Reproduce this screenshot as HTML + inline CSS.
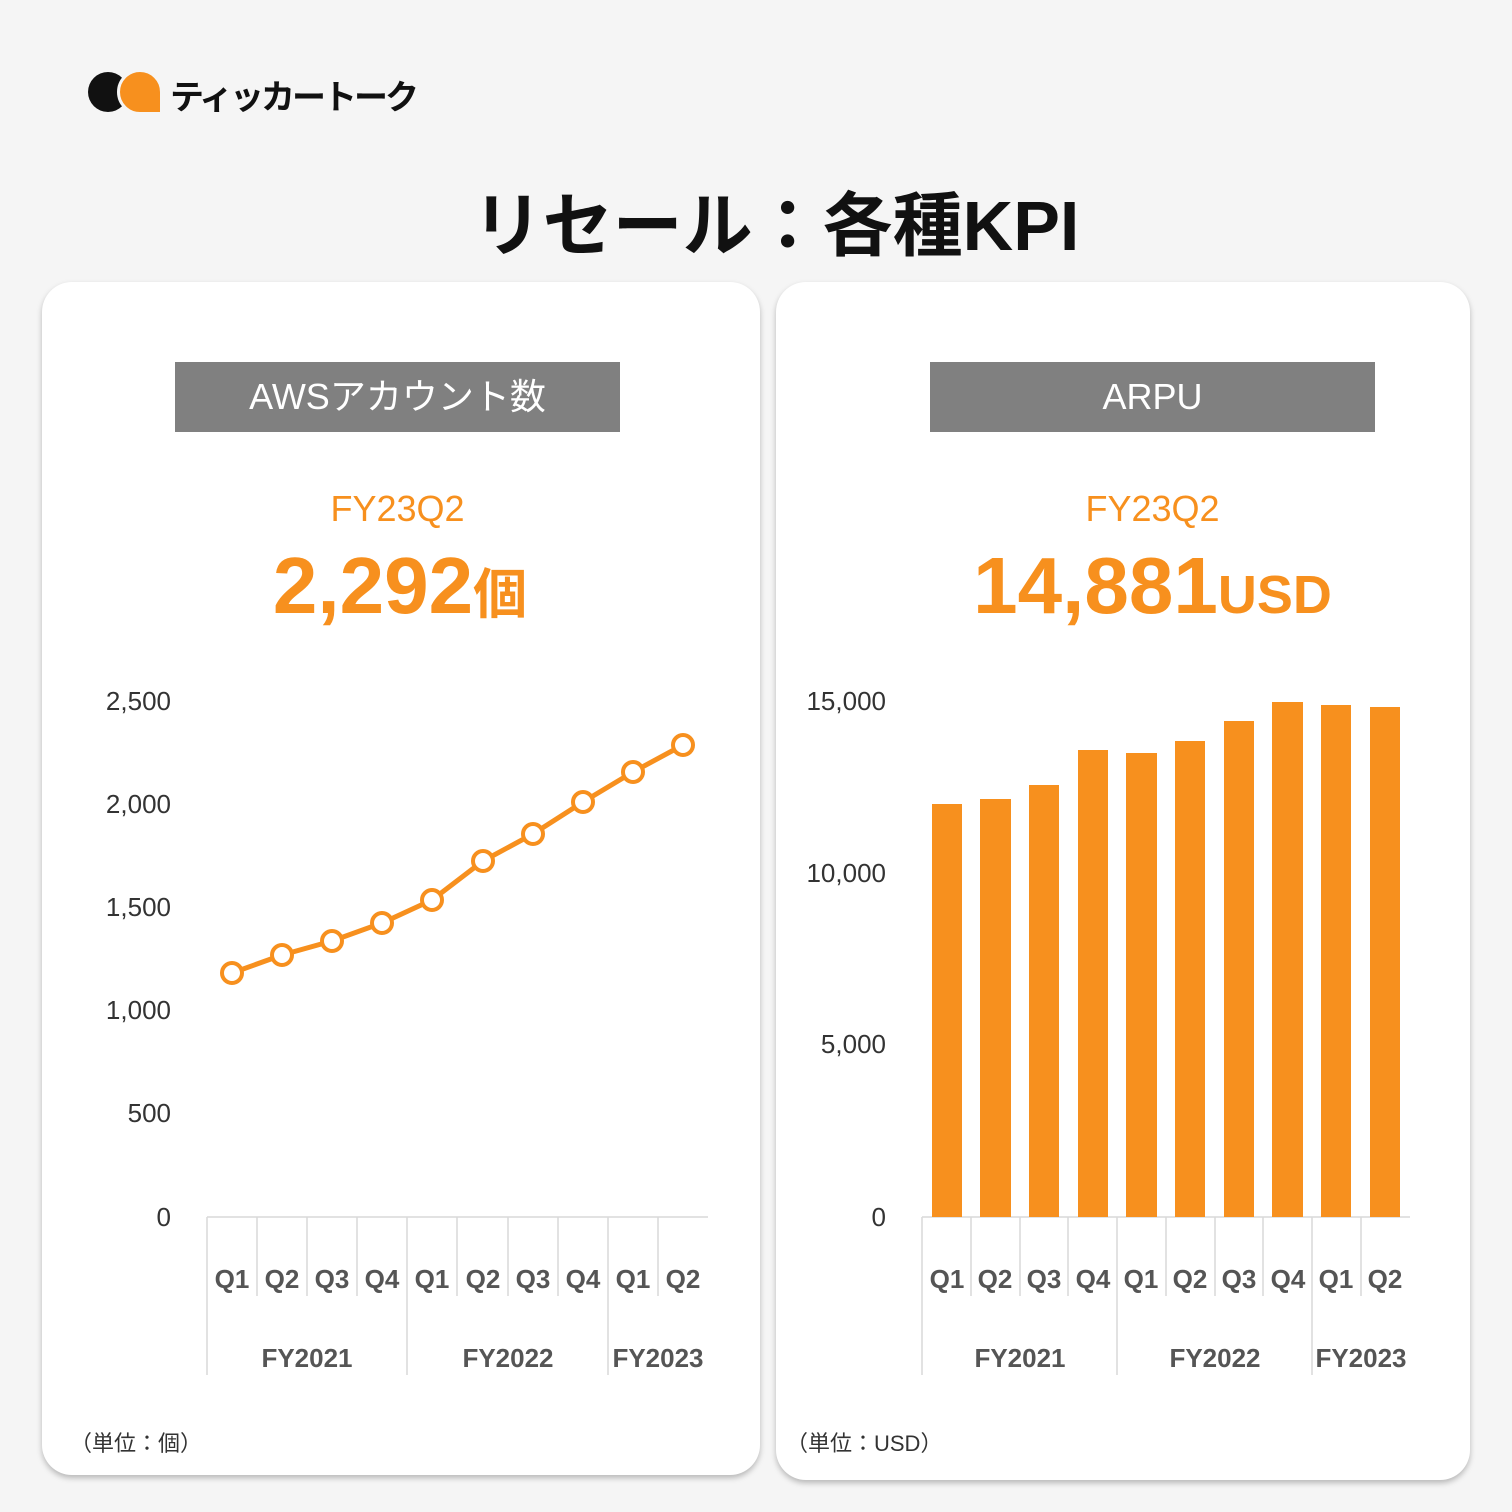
<!DOCTYPE html>
<html><head><meta charset="utf-8"><style>
body{margin:0;width:1512px;height:1512px;background:#f5f5f5;position:relative;overflow:hidden;font-family:"Liberation Sans","Noto Sans CJK JP",sans-serif}
.card{position:absolute;background:#fff;border-radius:30px;box-shadow:0 3px 6px rgba(0,0,0,.25)}
.hdr{position:absolute;background:#808080;color:#fff;font-size:36px;text-align:center;line-height:70px;height:70px}
.abs{position:absolute}
</style></head><body>
<div class="abs" style="left:88px;top:72px;width:40px;height:40px;border-radius:50%;background:#111"></div>
<div class="abs" style="left:120px;top:72px;width:40px;height:40px;border-radius:50% 50% 0 50%;background:#f7901e;border:3px solid #f5f5f5;box-sizing:content-box;margin:-3px"></div>
<div class="abs" style="left:170px;top:70px;font-size:34px;font-weight:bold;color:#111;letter-spacing:-3px;white-space:nowrap">ティッカートーク</div>
<div class="abs" style="left:0;width:1552px;top:170px;text-align:center;font-size:70px;font-weight:bold;color:#111">リセール：各種KPI</div>
<div class="card" style="left:42px;top:282px;width:718px;height:1193px"></div>
<div class="card" style="left:776px;top:282px;width:694px;height:1198px"></div>
<div class="hdr" style="left:175px;top:362px;width:445px">AWSアカウント数</div>
<div class="hdr" style="left:930px;top:362px;width:445px">ARPU</div>
<div class="abs" style="left:175px;width:445px;top:488px;text-align:center;font-size:36px;color:#f7901e">FY23Q2</div>
<div class="abs" style="left:930px;width:445px;top:488px;text-align:center;font-size:36px;color:#f7901e">FY23Q2</div>
<div class="abs" style="left:150px;width:500px;top:540px;text-align:center;font-size:80px;font-weight:bold;color:#f7901e">2,292<span style="font-size:54px">個</span></div>
<div class="abs" style="left:900px;width:505px;top:540px;text-align:center;font-size:80px;font-weight:bold;color:#f7901e">14,881<span style="font-size:54px">USD</span></div>
<div class="abs" style="left:70px;top:1426px;font-size:22px;color:#333">（単位：個）</div>
<div class="abs" style="left:786px;top:1426px;font-size:22px;color:#333">（単位：USD）</div>
<svg class="abs" style="left:0;top:0" width="1512" height="1512" font-family="Liberation Sans, Noto Sans CJK JP, sans-serif">
<g font-size="26" fill="#333" text-anchor="end">
<text x="171" y="710">2,500</text><text x="171" y="813">2,000</text><text x="171" y="916">1,500</text><text x="171" y="1019">1,000</text><text x="171" y="1122">500</text><text x="171" y="1226">0</text>
<text x="886" y="710">15,000</text><text x="886" y="882">10,000</text><text x="886" y="1053">5,000</text><text x="886" y="1226">0</text>
</g>
<g stroke="#d9d9d9" stroke-width="1.5">
<line x1="207" y1="1217" x2="708" y2="1217"/>
<line x1="207" y1="1217" x2="207" y2="1375"/><line x1="407" y1="1217" x2="407" y2="1375"/><line x1="608" y1="1217" x2="608" y2="1375"/>
<line x1="257" y1="1217" x2="257" y2="1296"/><line x1="307" y1="1217" x2="307" y2="1296"/><line x1="357" y1="1217" x2="357" y2="1296"/><line x1="457" y1="1217" x2="457" y2="1296"/><line x1="508" y1="1217" x2="508" y2="1296"/><line x1="558" y1="1217" x2="558" y2="1296"/><line x1="658" y1="1217" x2="658" y2="1296"/>
<line x1="922" y1="1217" x2="1410" y2="1217"/>
<line x1="922" y1="1217" x2="922" y2="1375"/><line x1="1117" y1="1217" x2="1117" y2="1375"/><line x1="1312" y1="1217" x2="1312" y2="1375"/>
<line x1="971" y1="1217" x2="971" y2="1296"/><line x1="1020" y1="1217" x2="1020" y2="1296"/><line x1="1068" y1="1217" x2="1068" y2="1296"/><line x1="1166" y1="1217" x2="1166" y2="1296"/><line x1="1215" y1="1217" x2="1215" y2="1296"/><line x1="1263" y1="1217" x2="1263" y2="1296"/><line x1="1361" y1="1217" x2="1361" y2="1296"/>
</g>
<g font-size="26" font-weight="bold" fill="#555" text-anchor="middle">
<text x="232" y="1288">Q1</text><text x="282" y="1288">Q2</text><text x="332" y="1288">Q3</text><text x="382" y="1288">Q4</text><text x="432" y="1288">Q1</text><text x="483" y="1288">Q2</text><text x="533" y="1288">Q3</text><text x="583" y="1288">Q4</text><text x="633" y="1288">Q1</text><text x="683" y="1288">Q2</text>
<text x="307" y="1367">FY2021</text><text x="508" y="1367">FY2022</text><text x="658" y="1367">FY2023</text>
<text x="947" y="1288">Q1</text><text x="995" y="1288">Q2</text><text x="1044" y="1288">Q3</text><text x="1093" y="1288">Q4</text><text x="1141" y="1288">Q1</text><text x="1190" y="1288">Q2</text><text x="1239" y="1288">Q3</text><text x="1288" y="1288">Q4</text><text x="1336" y="1288">Q1</text><text x="1385" y="1288">Q2</text>
<text x="1020" y="1367">FY2021</text><text x="1215" y="1367">FY2022</text><text x="1361" y="1367">FY2023</text>
</g>
<polyline fill="none" stroke="#f7901e" stroke-width="5" points="232,973 282,955 332,941 382,923 432,900 483,861 533,834 583,802 633,772 683,745"/>
<g fill="#fff" stroke="#f7901e" stroke-width="4">
<circle cx="232" cy="973" r="10"/><circle cx="282" cy="955" r="10"/><circle cx="332" cy="941" r="10"/><circle cx="382" cy="923" r="10"/><circle cx="432" cy="900" r="10"/><circle cx="483" cy="861" r="10"/><circle cx="533" cy="834" r="10"/><circle cx="583" cy="802" r="10"/><circle cx="633" cy="772" r="10"/><circle cx="683" cy="745" r="10"/>
</g>
<g fill="#f7901e">
<rect x="932" y="804" width="30" height="413"/><rect x="980" y="799" width="31" height="418"/><rect x="1029" y="785" width="30" height="432"/><rect x="1078" y="750" width="30" height="467"/><rect x="1126" y="753" width="31" height="464"/><rect x="1175" y="741" width="30" height="476"/><rect x="1224" y="721" width="30" height="496"/><rect x="1272" y="702" width="31" height="515"/><rect x="1321" y="705" width="30" height="512"/><rect x="1370" y="707" width="30" height="510"/>
</g>
</svg>
</body></html>
